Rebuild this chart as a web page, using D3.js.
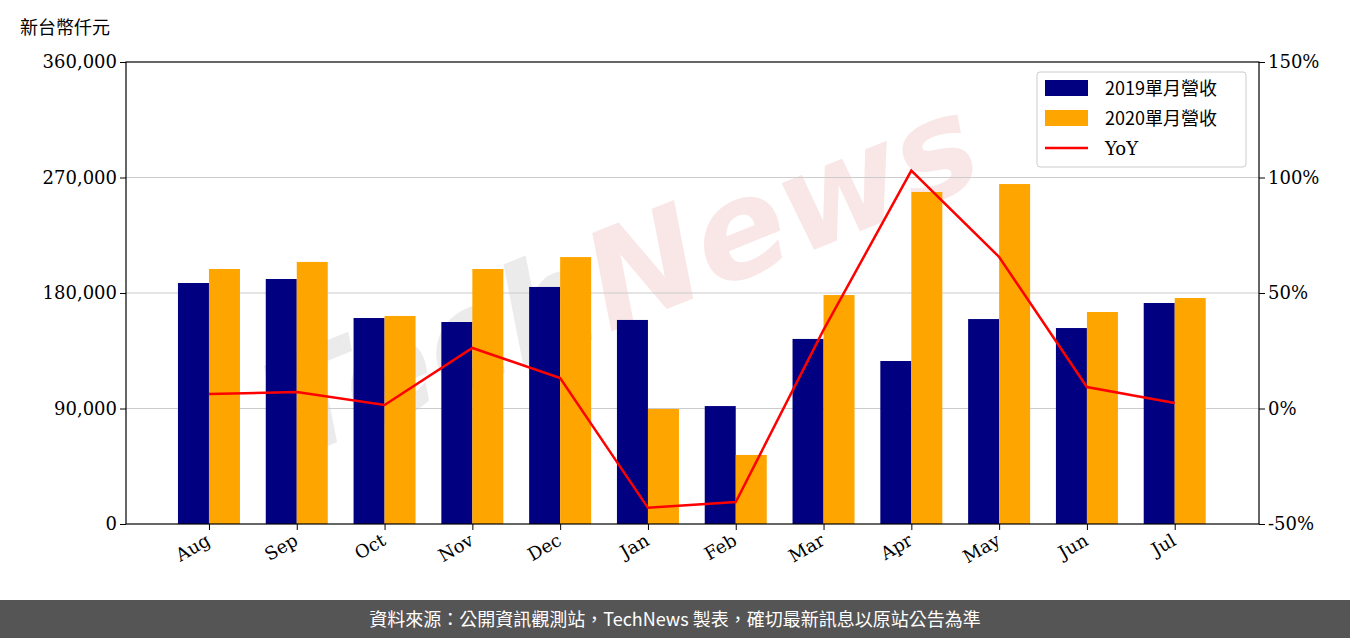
<!DOCTYPE html><html><head><meta charset="utf-8"><script src="https://d3js.org/d3.v7.min.js"></script>
<style>body{margin:0;background:#fff}</style></head><body><svg id="c" width="1350" height="638"></svg>
<script>
const months=["Aug","Sep","Oct","Nov","Dec","Jan","Feb","Mar","Apr","May","Jun","Jul"];
const rev2019=[187800,190900,160500,157400,184700,159000,91900,144200,127000,159700,152700,172200];
const rev2020=[198700,204200,162100,198700,208000,89600,53800,178400,258700,264900,165200,176100];
const yoy=[6.3,7.1,1.5,26.2,13.2,-43,-40.5,34,103,65.6,9.3,2.4];
const leftTicks=[0,90000,180000,270000,360000];
const rightTicks=[-50,0,50,100,150];
const svg=d3.select("#c");
const L=126,R=1259,T=62,B=524;
const x=d3.scaleLinear().domain([-0.945,11.96]).range([L,R]);
const y=d3.scaleLinear().domain([0,360000]).range([B,T]);
const y2=d3.scaleLinear().domain([-50,150]).range([B,T]);
const serif="'DejaVu Serif',serif", cjk="'Noto Sans CJK TC',sans-serif";
// watermark
const wm=svg.append("text").attr("transform","translate(640,320) rotate(-22)").attr("text-anchor","middle")
 .attr("font-family","DejaVu Sans").attr("font-weight","bold").attr("font-style","italic").attr("font-size",135).attr("opacity",0.35);
wm.append("tspan").attr("fill","#c8c8c8").text("Tech");
wm.append("tspan").attr("fill","#f0b8b8").text("News");
// grid
svg.append("g").selectAll("line").data(leftTicks.slice(1,4)).join("line").attr("x1",L).attr("x2",R)
 .attr("y1",d=>y(d)).attr("y2",d=>y(d)).attr("stroke","#ccc").attr("stroke-width",1.2);
const bw=31;
svg.append("g").selectAll("rect").data(rev2019).join("rect").attr("x",(d,i)=>x(i)-bw).attr("width",bw)
 .attr("y",d=>y(d)).attr("height",d=>B-y(d)).attr("fill","#000080");
svg.append("g").selectAll("rect").data(rev2020).join("rect").attr("x",(d,i)=>x(i)).attr("width",bw)
 .attr("y",d=>y(d)).attr("height",d=>B-y(d)).attr("fill","#ffa500");
svg.append("path").datum(yoy).attr("d",d3.line().x((d,i)=>x(i)).y(d=>y2(d))).attr("fill","none").attr("stroke","red").attr("stroke-width",2.5);
svg.append("rect").attr("x",L).attr("y",T).attr("width",R-L).attr("height",B-T).attr("fill","none").attr("stroke","#000").attr("stroke-width",1.2);
const ax=svg.append("g").attr("transform",`translate(${L},0)`).call(d3.axisLeft(y).tickValues(leftTicks).tickFormat(d3.format(",")).tickSize(6));
const ax2=svg.append("g").attr("transform",`translate(${R},0)`).call(d3.axisRight(y2).tickValues(rightTicks).tickFormat(d=>d+"%").tickSize(6));
const ax3=svg.append("g").attr("transform",`translate(0,${B})`).call(d3.axisBottom(x).tickValues(d3.range(12)).tickFormat(i=>months[i]).tickSize(6));
[ax,ax2,ax3].forEach(a=>{a.select(".domain").remove();a.selectAll("text").attr("font-family",serif).attr("font-size",18).attr("fill","#000");});
ax3.selectAll("text").attr("text-anchor","end").attr("x",0).attr("y",0).attr("dy",0).attr("transform","translate(2,20) rotate(-30)");
svg.append("text").attr("x",20).attr("y",34).attr("font-family",cjk).attr("font-size",18).text("新台幣仟元");
// legend
const lg=svg.append("g");
lg.append("rect").attr("x",1037).attr("y",72).attr("width",209).attr("height",95).attr("fill","#fff").attr("fill-opacity",0.85).attr("stroke","#ccc").attr("rx",3);
const items=[["2019單月營收","#000080","rect"],["2020單月營收","#ffa500","rect"],["YoY","red","line"]];
items.forEach((it,i)=>{const cy=88+i*30;
 if(it[2]=="rect")lg.append("rect").attr("x",1045).attr("y",cy-8).attr("width",43).attr("height",16).attr("fill",it[1]);
 else lg.append("line").attr("x1",1045).attr("x2",1088).attr("y1",cy).attr("y2",cy).attr("stroke",it[1]).attr("stroke-width",2.5);
 lg.append("text").attr("x",1105).attr("y",cy+7).attr("font-family",i<2?cjk:serif).attr("font-size",18).text(it[0]);});
svg.append("rect").attr("x",0).attr("y",600).attr("width",1350).attr("height",38).attr("fill","#555");
svg.append("text").attr("x",675).attr("y",626).attr("text-anchor","middle").attr("fill","#fff").attr("font-family",cjk).attr("font-size",18)
 .text("資料來源：公開資訊觀測站，TechNews 製表，確切最新訊息以原站公告為準");
</script></body></html>
